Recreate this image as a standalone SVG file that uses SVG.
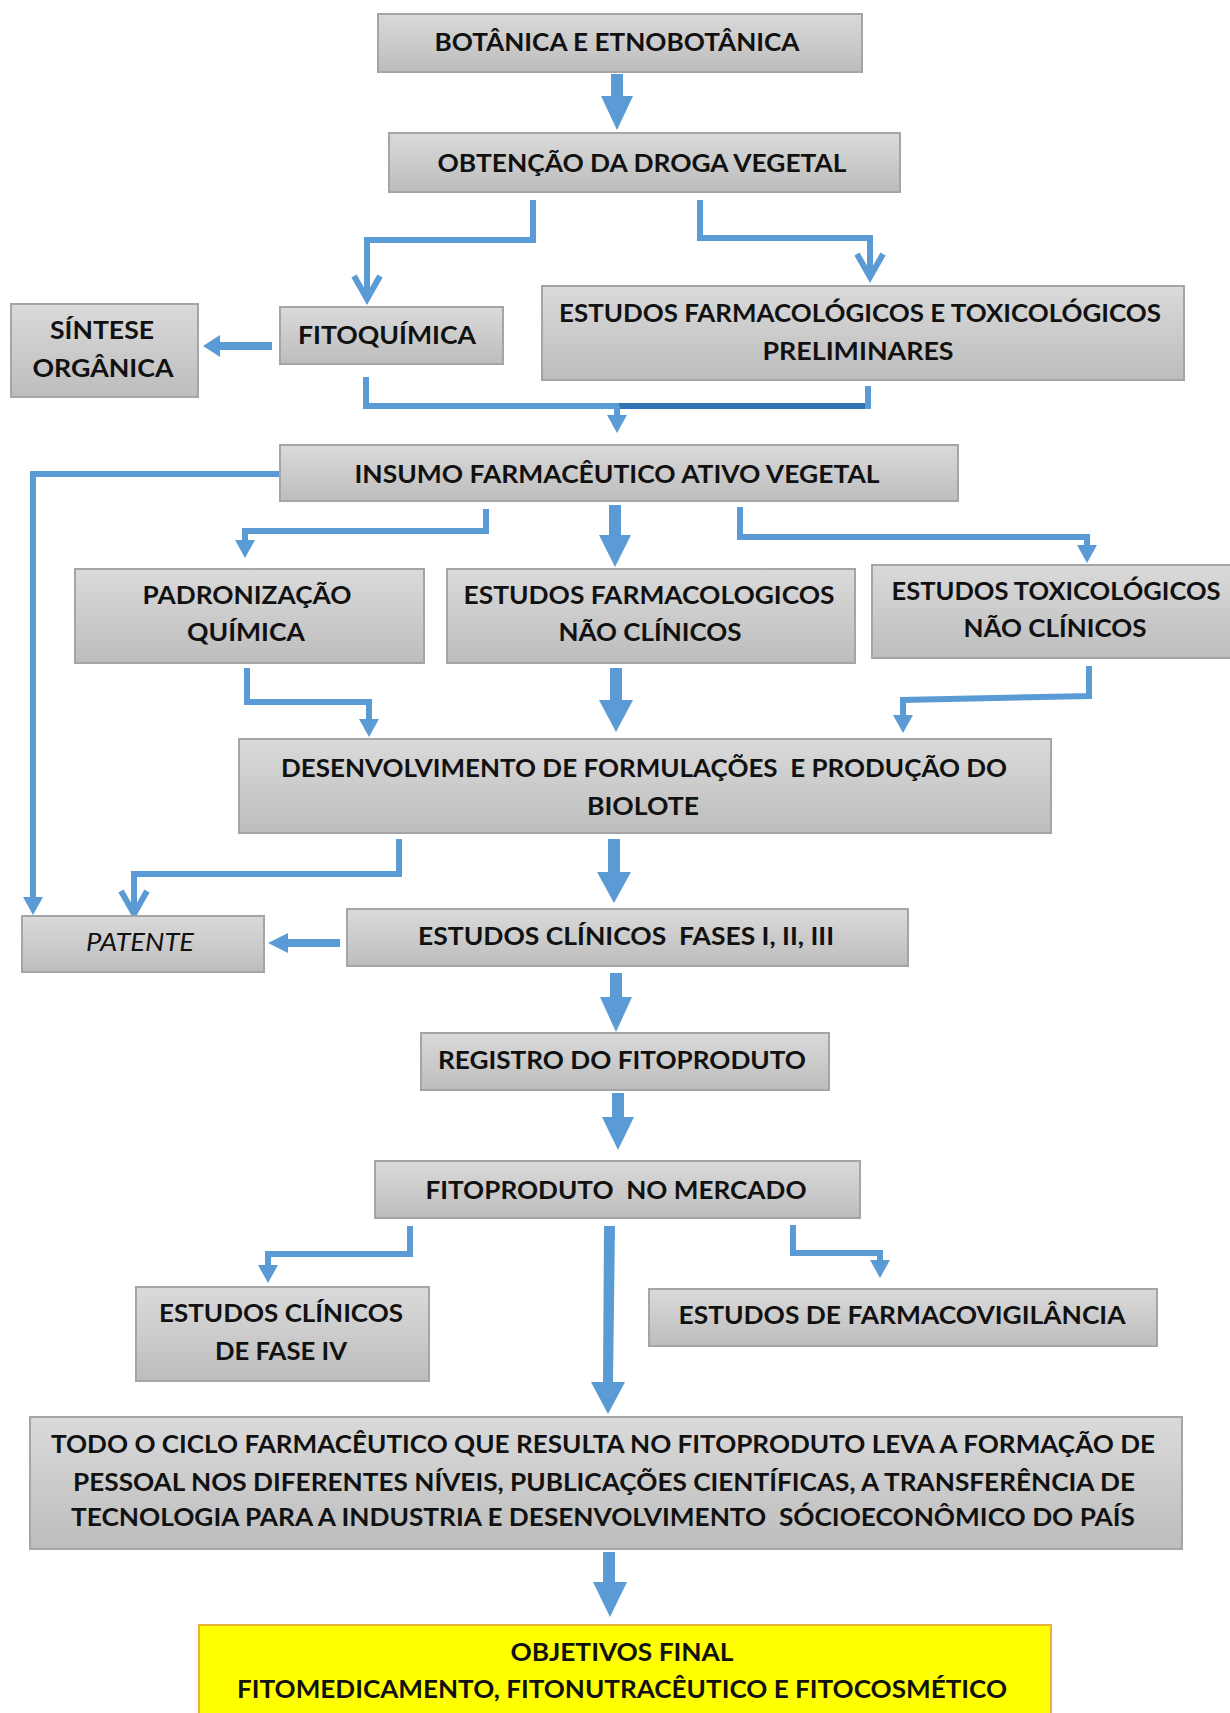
<svg xmlns="http://www.w3.org/2000/svg" width="1230" height="1713" viewBox="0 0 1230 1713">
<defs>
<linearGradient id="g" x1="0" y1="0" x2="0" y2="1">
<stop offset="0" stop-color="#DADADA"/>
<stop offset="1" stop-color="#BDBDBD"/>
</linearGradient>
<marker id="tri" markerUnits="userSpaceOnUse" markerWidth="40" markerHeight="40" refX="0" refY="0" viewBox="-20 -20 40 40" orient="auto" overflow="visible">
<path d="M0,-10 L18,0 L0,10 Z" fill="#5B9BD5"/>
</marker>
<marker id="chev" markerUnits="userSpaceOnUse" markerWidth="40" markerHeight="40" refX="0" refY="0" viewBox="-20 -20 40 40" orient="auto" overflow="visible">
<path d="M-24,-13 L-1,0 L-24,13" fill="none" stroke="#5B9BD5" stroke-width="6" stroke-linejoin="miter"/>
</marker>
</defs>
<style>
.box{fill:url(#g);stroke:#A5A5A5;stroke-width:2}
.yel{fill:#FFFF00;stroke:#E8B33C;stroke-width:2}
text{font-family:Lato,"Open Sans","Liberation Sans",sans-serif;font-weight:bold;font-size:25px;fill:#111;text-anchor:middle;white-space:pre}
.it{font-style:italic;font-weight:normal}
.ln{fill:none;stroke:#5B9BD5;stroke-width:6}
.dk{fill:none;stroke:#2E75B6;stroke-width:6}
.blk{fill:#5B9BD5}
</style>
<rect width="1230" height="1713" fill="#fff"/>

<g id="connectors">
<polygon class="blk" points="611,74 623,74 623,96 633,96 617,130 601,96 611,96"/>
<path class="ln" d="M533,200 V240 H367 V300" marker-end="url(#chev)"/>
<path class="ln" d="M700,200 V238 H870 V278" marker-end="url(#chev)"/>
<polygon class="blk" points="272,342 220,342 220,335 203,346 220,357 220,350 272,350"/>
<path class="ln" d="M366,377 V406 H622"/>
<path class="dk" d="M619,406 H868"/>
<path class="ln" d="M868,386 V409"/>
<path class="ln" d="M617,406 V415" marker-end="url(#tri)"/>
<path class="ln" d="M280,474 H33 V897" marker-end="url(#tri)"/>
<path class="ln" d="M486,509 V531 H245 V540" marker-end="url(#tri)"/>
<polygon class="blk" points="609,505 621,505 621,535 631,535 615,567 599,535 609,535"/>
<path class="ln" d="M740,507 V537 H1087 V545" marker-end="url(#tri)"/>
<path class="ln" d="M247,668 V702 H369 V719" marker-end="url(#tri)"/>
<polygon class="blk" points="610,668 622,668 622,700 633,700 616,732 599,700 610,700"/>
<path class="ln" d="M1089,666 V696 L903,700 V715" marker-end="url(#tri)"/>
<path class="ln" d="M399,839 V874 H134 V915" marker-end="url(#chev)"/>
<polygon class="blk" points="608,839 620,839 620,872 631,872 614,903 597,872 608,872"/>
<polygon class="blk" points="340,939 288,939 288,933 268,943 288,953 288,947 340,947"/>
<polygon class="blk" points="610,973 622,973 622,997 632,997 616,1032 600,997 610,997"/>
<polygon class="blk" points="612,1093 624,1093 624,1117 634,1117 618,1150 602,1117 612,1117"/>
<path class="ln" d="M410,1226 V1254 H268 V1265" marker-end="url(#tri)"/>
<polygon class="blk" points="604,1226 615,1226 613,1382 625,1382 608,1414 591,1382 603,1382"/>
<path class="ln" d="M793,1225 V1253 H880 V1260" marker-end="url(#tri)"/>
<polygon class="blk" points="603,1552 615,1552 615,1582 627,1582 610,1617 593,1582 603,1582"/>
</g>

<g id="n1"><rect class="box" x="378" y="14" width="484" height="58"/><text x="617" y="51" textLength="365" lengthAdjust="spacingAndGlyphs">BOTÂNICA E ETNOBOTÂNICA</text></g>
<g id="n2"><rect class="box" x="389" y="133" width="511" height="59"/><text x="642" y="172" textLength="409" lengthAdjust="spacingAndGlyphs">OBTENÇÃO DA DROGA VEGETAL</text></g>
<g id="n3"><rect class="box" x="280" y="307" width="223" height="57"/><text x="387" y="344" textLength="178" lengthAdjust="spacingAndGlyphs">FITOQUÍMICA</text></g>
<g id="n4"><rect class="box" x="11" y="304" width="187" height="93"/><text x="102" y="339" textLength="104" lengthAdjust="spacingAndGlyphs">SÍNTESE</text><text x="103" y="377" textLength="141" lengthAdjust="spacingAndGlyphs">ORGÂNICA</text></g>
<g id="n5"><rect class="box" x="542" y="286" width="642" height="94"/><text x="860" y="322" textLength="602" lengthAdjust="spacingAndGlyphs">ESTUDOS FARMACOLÓGICOS E TOXICOLÓGICOS</text><text x="858" y="360" textLength="191" lengthAdjust="spacingAndGlyphs">PRELIMINARES</text></g>
<g id="n6"><rect class="box" x="280" y="445" width="678" height="56"/><text x="617" y="483" textLength="525" lengthAdjust="spacingAndGlyphs">INSUMO FARMACÊUTICO ATIVO VEGETAL</text></g>
<g id="n7"><rect class="box" x="75" y="569" width="349" height="94"/><text x="247" y="604" textLength="209" lengthAdjust="spacingAndGlyphs">PADRONIZAÇÃO</text><text x="246" y="641" textLength="118" lengthAdjust="spacingAndGlyphs">QUÍMICA</text></g>
<g id="n8"><rect class="box" x="447" y="569" width="408" height="94"/><text x="649" y="604" textLength="371" lengthAdjust="spacingAndGlyphs">ESTUDOS FARMACOLOGICOS</text><text x="650" y="641" textLength="183" lengthAdjust="spacingAndGlyphs">NÃO CLÍNICOS</text></g>
<g id="n9"><rect class="box" x="872" y="565" width="365" height="93"/><text x="1056" y="600" textLength="329" lengthAdjust="spacingAndGlyphs">ESTUDOS TOXICOLÓGICOS</text><text x="1055" y="637" textLength="183" lengthAdjust="spacingAndGlyphs">NÃO CLÍNICOS</text></g>
<g id="n10"><rect class="box" x="239" y="739" width="812" height="94"/><text x="644" y="777" textLength="726" lengthAdjust="spacingAndGlyphs">DESENVOLVIMENTO DE FORMULAÇÕES  E PRODUÇÃO DO</text><text x="643" y="815" textLength="112" lengthAdjust="spacingAndGlyphs">BIOLOTE</text></g>
<g id="n11"><rect class="box" x="22" y="916" width="242" height="56"/><text class="it" x="140" y="951" textLength="108" lengthAdjust="spacingAndGlyphs">PATENTE</text></g>
<g id="n12"><rect class="box" x="347" y="909" width="561" height="57"/><text x="626" y="945" textLength="416" lengthAdjust="spacingAndGlyphs">ESTUDOS CLÍNICOS  FASES I, II, III</text></g>
<g id="n13"><rect class="box" x="421" y="1033" width="408" height="57"/><text x="622" y="1069" textLength="368" lengthAdjust="spacingAndGlyphs">REGISTRO DO FITOPRODUTO</text></g>
<g id="n14"><rect class="box" x="375" y="1161" width="485" height="57"/><text x="616" y="1199" textLength="381" lengthAdjust="spacingAndGlyphs">FITOPRODUTO  NO MERCADO</text></g>
<g id="n15"><rect class="box" x="136" y="1287" width="293" height="94"/><text x="281" y="1322" textLength="244" lengthAdjust="spacingAndGlyphs">ESTUDOS CLÍNICOS</text><text x="281" y="1360" textLength="132" lengthAdjust="spacingAndGlyphs">DE FASE IV</text></g>
<g id="n16"><rect class="box" x="649" y="1289" width="508" height="57"/><text x="902" y="1324" textLength="447" lengthAdjust="spacingAndGlyphs">ESTUDOS DE FARMACOVIGILÂNCIA</text></g>
<g id="n17"><rect class="box" x="30" y="1417" width="1152" height="132"/><text x="603" y="1453" textLength="1104" lengthAdjust="spacingAndGlyphs">TODO O CICLO FARMACÊUTICO QUE RESULTA NO FITOPRODUTO LEVA A FORMAÇÃO DE</text><text x="604" y="1491" textLength="1062" lengthAdjust="spacingAndGlyphs">PESSOAL NOS DIFERENTES NÍVEIS, PUBLICAÇÕES CIENTÍFICAS, A TRANSFERÊNCIA DE</text><text x="603" y="1526" textLength="1064" lengthAdjust="spacingAndGlyphs">TECNOLOGIA PARA A INDUSTRIA E DESENVOLVIMENTO  SÓCIOECONÔMICO DO PAÍS</text></g>
<g id="n18"><rect class="yel" x="199" y="1625" width="852" height="100"/><text x="622" y="1661" textLength="223" lengthAdjust="spacingAndGlyphs">OBJETIVOS FINAL</text><text x="622" y="1698" textLength="770" lengthAdjust="spacingAndGlyphs">FITOMEDICAMENTO, FITONUTRACÊUTICO E FITOCOSMÉTICO</text></g>
</svg>
